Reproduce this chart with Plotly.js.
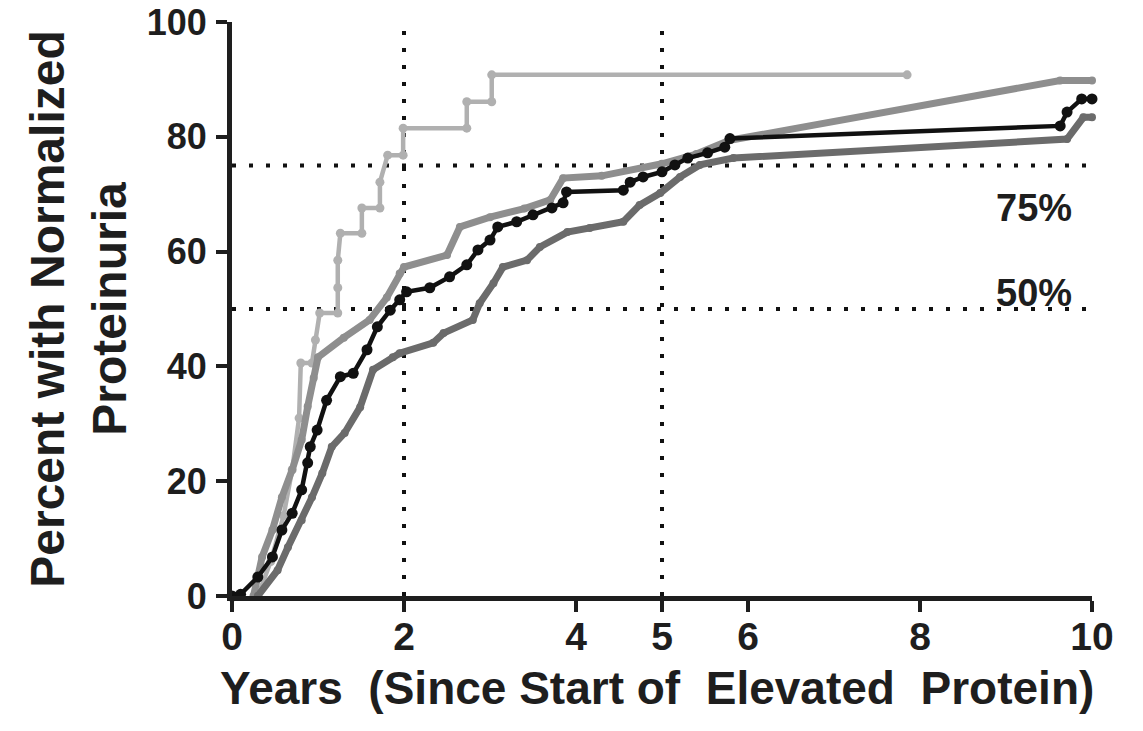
<!DOCTYPE html>
<html>
<head>
<meta charset="utf-8">
<script src="https://cdn.plot.ly/plotly-3.0.1.min.js"></script>
<style>html,body{margin:0;padding:0;background:#fff;}#chart{width:1143px;height:731px;}</style>
</head>
<body>
<div id="chart"></div>
<script>
// Lightest gray (step curve, small group)
const lightX = [0.3,0.45,0.6,0.7,0.78,0.8,0.93,0.97,1.02,1.23,1.23,1.23,1.26,1.51,1.51,1.72,1.72,1.81,1.99,1.99,2.73,2.73,3.02,3.02,7.85];
const lightY = [0,6,14,22,31,40.6,40.6,44.6,49.3,49.3,53.7,58.5,63.2,63.2,67.6,67.6,72.1,76.8,76.8,81.5,81.5,86.1,86.1,90.8,90.8];

// Medium gray
const midX = [0.25,0.35,0.47,0.58,0.7,0.81,0.88,0.95,1.0,1.3,1.6,1.8,1.95,2.0,2.5,2.65,3.0,3.4,3.7,3.85,4.3,5.0,5.4,5.79,9.63,10];
const midY = [0,6.8,11.5,17.2,22,27.2,33,38,41.6,45,48.1,52,56.2,57.3,59.4,64.3,66,67.5,69,72.8,73.2,75.3,77,79.4,89.8,89.8];

// Dark gray (lowest)
const darkX = [0.3,0.53,0.65,0.81,0.93,1.05,1.16,1.31,1.49,1.64,1.87,1.95,2.34,2.46,2.8,2.88,3.04,3.15,3.43,3.58,3.9,4.16,4.55,4.74,4.98,5.21,5.44,5.83,9.71,9.9,10];
const darkY = [0,4.5,8.5,13.2,17.2,21.4,26,28.4,32.9,39.4,41.6,42.3,44.1,45.8,48.1,51,54.5,57.3,58.5,60.8,63.4,64.1,65.2,68.1,70.2,73,75.1,76.3,79.6,83.4,83.4];

// Black
const blackX = [0,0.1,0.3,0.47,0.58,0.7,0.81,0.88,0.91,0.99,1.1,1.26,1.41,1.57,1.69,1.84,1.95,2.03,2.3,2.53,2.73,2.86,3.0,3.09,3.31,3.5,3.72,3.85,3.89,4.55,4.63,4.78,5.0,5.15,5.3,5.53,5.73,5.79,9.63,9.71,9.88,10];
const blackY = [0,0.3,3.3,6.8,11.5,14.4,18.5,23.2,26,28.9,34.1,38.2,38.8,42.9,46.9,49.8,51.6,53,53.7,55.6,57.7,60.3,62,64.3,65.2,66.4,67.6,68.5,70.4,70.7,72.1,73,73.9,75.1,76.3,77.2,78.2,79.7,81.9,84.3,86.6,86.6];

// Reference levels
const refX = [2, 5];
const refY = [75, 50];
const refLabels = ["75%", "50%"];
const refLabelY = [67.6, 52.8];
const xTicks = [0, 2, 4, 5, 6, 8, 10];
const yTicks = [0, 20, 40, 60, 80, 100];
const xTitle = 'Years\u00a0\u00a0(Since Start of\u00a0 Elevated\u00a0 Protein)';
const yTitle = 'Percent with Normalized<br>Proteinuria';

const FONT = '"Liberation Sans", Arial, sans-serif';
const INK = '#1e1e1e';

const traces = [
  {x: lightX, y: lightY, mode: 'lines+markers', line: {color: '#b0b0b0', width: 4.5}, marker: {color: '#b0b0b0', size: 9}, cliponaxis: false, showlegend: false},
  {x: midX, y: midY, mode: 'lines+markers', line: {color: '#8e8e8e', width: 7}, marker: {color: '#8e8e8e', size: 8}, cliponaxis: false, showlegend: false},
  {x: darkX, y: darkY, mode: 'lines+markers', line: {color: '#6b6b6b', width: 7}, marker: {color: '#6b6b6b', size: 8}, cliponaxis: false, showlegend: false},
  {x: blackX, y: blackY, mode: 'lines+markers', line: {color: '#111111', width: 4.5}, marker: {color: '#111111', size: 11}, cliponaxis: false, showlegend: false}
];

const shapes = [];
refX.forEach(v => shapes.push({type: 'line', xref: 'x', yref: 'y', x0: v, x1: v, y0: 0, y1: 100, line: {color: '#111', width: 4, dash: '4px,13px'}, layer: 'below'}));
refY.forEach(v => shapes.push({type: 'line', xref: 'x', yref: 'y', x0: 0, x1: 10, y0: v, y1: v, line: {color: '#111', width: 4, dash: '4px,13px'}, layer: 'below'}));

const annotations = refLabels.map((t, i) => ({
  x: 9.33, y: refLabelY[i], xref: 'x', yref: 'y', text: t, showarrow: false,
  yanchor: 'middle', xanchor: 'center',
  font: {family: FONT, size: 38, color: INK, weight: 'bold'}
}));
annotations.push({
  x: 0.494, y: -0.16, xref: 'paper', yref: 'paper', text: xTitle, showarrow: false,
  xanchor: 'center', yanchor: 'middle',
  font: {family: FONT, size: 46, color: INK, weight: 'bold'}
});

const layout = {
  width: 1143, height: 731,
  margin: {l: 232, r: 51, t: 22, b: 135},
  paper_bgcolor: '#fff', plot_bgcolor: '#fff',
  font: {family: FONT, color: INK},
  xaxis: {
    range: [0, 10], tickvals: xTicks, ticktext: xTicks.map(String),
    showgrid: false, zeroline: false, showline: true, linecolor: INK, linewidth: 5,
    ticks: 'outside', ticklen: 11, tickwidth: 4, tickcolor: INK,
    ticklabelstandoff: -9,
    tickfont: {family: FONT, size: 39, color: INK, weight: 'bold'},
    automargin: false
  },
  yaxis: {
    range: [0, 100], tickvals: yTicks, ticktext: yTicks.map(String),
    showgrid: false, zeroline: false, showline: true, linecolor: INK, linewidth: 5,
    ticks: 'outside', ticklen: 11, tickwidth: 4, tickcolor: INK,
    ticklabelstandoff: 2,
    tickfont: {family: FONT, size: 36, color: INK, weight: 'bold'},
    title: {text: yTitle, font: {family: FONT, size: 48, color: INK, weight: 'bold'}, standoff: 6},
    automargin: false
  },
  shapes: shapes,
  annotations: annotations
};

Plotly.newPlot('chart', traces, layout, {displayModeBar: false, staticPlot: true});
</script>
</body>
</html>
